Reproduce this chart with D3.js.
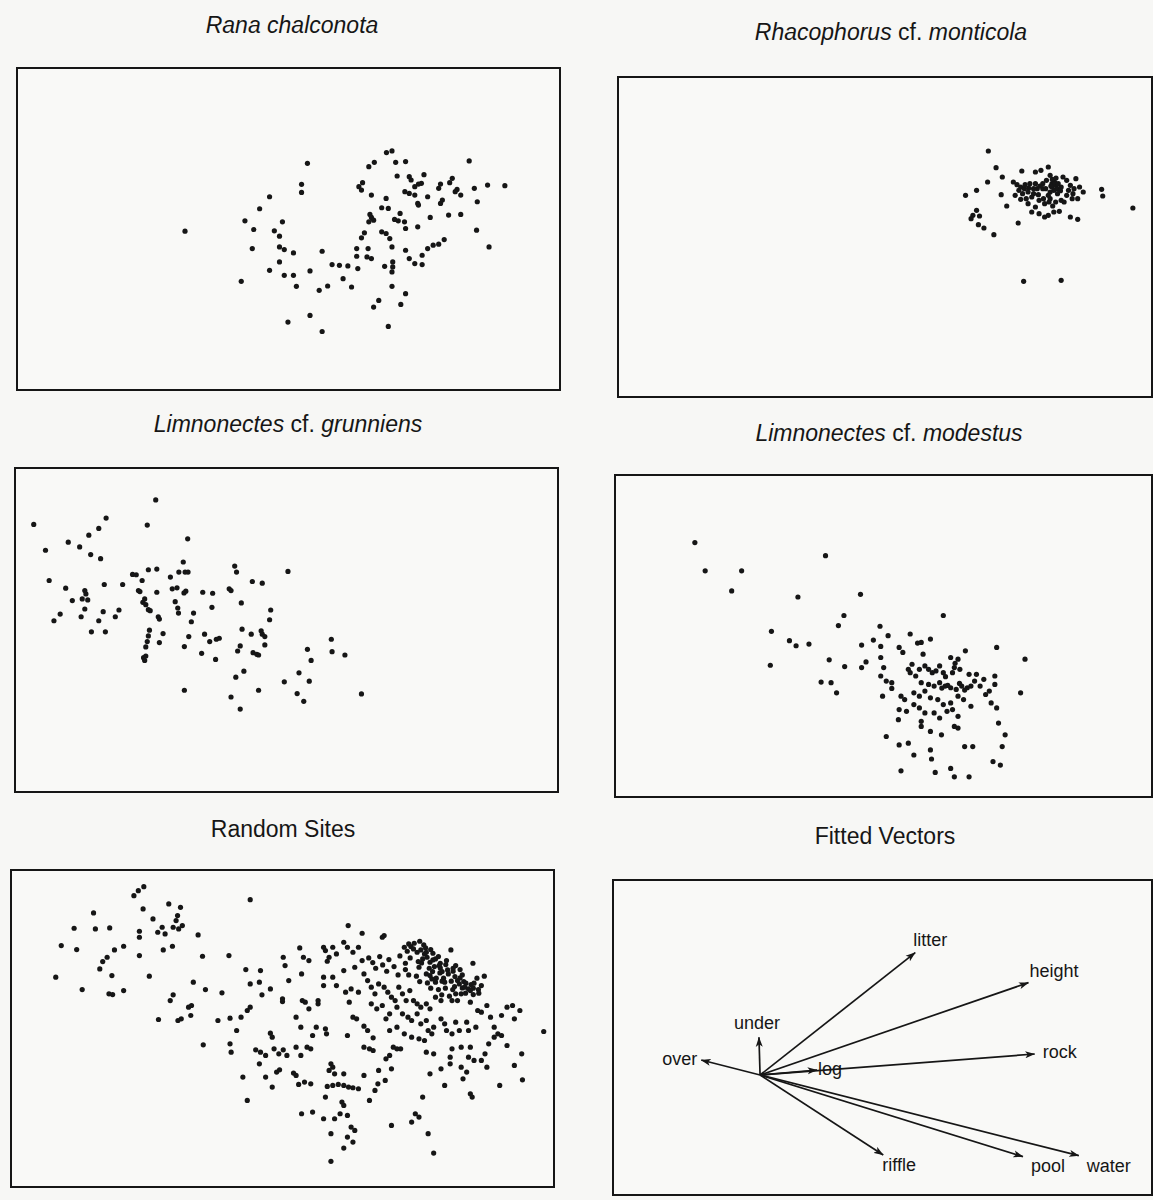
<!DOCTYPE html>
<html>
<head>
<meta charset="utf-8">
<script src="https://cdn.jsdelivr.net/npm/d3@7"></script>
<style>
  html, body { margin: 0; padding: 0; background: #f7f7f5; }
  svg { display: block; }
</style>
</head>
<body>
<svg id="chart" width="1153" height="1200"></svg>
<script>
// digitized ordination scores, one array per taxon [axis1, axis2]
const ranaChalconota = [
  [505,693],[838,490],[822,553],[822,577],[735,590],[708,626],[668,662],[770,665],
  [692,688],[748,692],[762,708],[688,745],[762,740],[775,748],[800,758],[878,753],
  [762,785],[735,810],[775,825],[800,825],[845,812],[658,843],[808,858],[905,793],
  [925,795],[948,797],[975,805],[935,835],[893,857],[870,870],[958,860],[785,965],
  [845,945],[878,993],[1058,978],[1018,920],[1032,900],[1092,912],[1105,880],[1068,858],
  [1048,798],[1070,800],[1068,815],[1070,785],[1000,770],[1012,775],[972,768],[972,745],
  [1003,745],[985,713],[993,698],[1040,695],[1052,700],[1062,715],[1068,740],[1005,665],
  [1012,652],[1018,660],[1008,643],[1040,623],[1058,625],[1052,595],[1012,585],[978,560],
  [988,548],[985,570],[1005,500],[1020,487],[1053,458],[1068,453],[1078,487],[1105,485],
  [1082,528],[1115,530],[1120,540],[1155,524],[1140,552],[1148,550],[1130,560],[1103,575],
  [1115,580],[1130,585],[1138,610],[1165,590],[1090,640],[1075,658],[1085,662],[1102,665],
  [1105,685],[1138,680],[1172,652],[1105,750],[1115,775],[1130,790],[1150,793],[1150,765],
  [1165,745],[1180,735],[1195,732],[1210,718],[1200,610],[1205,600],[1195,565],[1200,552],
  [1225,548],[1232,535],[1245,568],[1255,585],[1240,575],[1222,645],[1255,643],[1278,483],
  [1292,565],[1328,555],[1375,557],[1300,605],[1298,690],[1332,740],[1140,615]
];

const rhacophorusMonticola = [
  [1122,447],[1143,497],[1160,525],[1120,540],[1090,565],[1060,580],[1157,578],[1172,612],
  [1090,625],[1080,640],[1098,642],[1075,650],[1095,668],[1110,678],[1137,698],[1203,663],
  [1213,507],[1190,540],[1200,548],[1210,555],[1220,560],[1230,570],[1245,575],[1240,585],
  [1225,590],[1210,592],[1250,510],[1265,505],[1285,495],[1290,520],[1280,535],[1270,545],
  [1295,545],[1305,550],[1310,560],[1300,565],[1320,555],[1325,525],[1335,535],[1345,550],
  [1355,560],[1360,530],[1370,555],[1380,570],[1365,590],[1255,560],[1260,595],[1275,605],
  [1290,590],[1305,600],[1320,595],[1335,580],[1350,590],[1240,630],[1260,635],[1275,645],
  [1285,640],[1300,630],[1315,628],[1345,645],[1365,652],[1250,615],[1230,605],[1430,562],
  [1433,582],[1515,618],[1218,838],[1320,835],[1295,555],[1300,548],[1290,570],[1310,575],
  [1285,580],[1270,560],[1245,560],[1235,545],[1215,575],[1195,580],
  [1250,545],[1262,552],[1278,560],[1292,552],[1302,540],[1312,545],[1318,566],[1287,600],
  [1297,612],[1272,590],[1258,578],[1232,558],[1222,548],[1205,565],[1340,565],[1328,600],
  [1352,575],[1296,532],[1306,528]
];

const limnonectesGrunniens = [
  [93,373],[125,450],[135,540],[148,660],[165,640],[180,563],[187,426],[218,440],
  [243,405],[248,463],[270,385],[275,475],[290,354],[198,600],[222,648],[225,595],
  [232,570],[235,580],[240,598],[232,625],[250,693],[270,660],[282,633],[288,693],
  [285,552],[315,648],[325,628],[335,552],[362,522],[372,523],[378,570],[382,573],
  [388,540],[390,605],[395,595],[398,612],[405,508],[428,506],[405,627],[410,630],
  [402,375],[425,300],[428,575],[432,648],[435,655],[408,688],[405,705],[445,698],
  [435,725],[402,722],[398,738],[392,770],[395,778],[398,765],[465,530],[470,565],
  [483,562],[488,515],[500,485],[505,515],[513,515],[507,572],[502,577],[478,603],
  [485,622],[487,637],[512,416],[528,637],[522,663],[515,707],[503,737],[503,867],
  [553,575],[580,578],[578,620],[558,700],[572,722],[590,715],[598,712],[550,757],
  [588,775],[625,565],[630,570],[640,497],[645,515],[658,607],[660,685],[655,735],
  [648,750],[685,700],[690,755],[700,760],[705,762],[688,543],[715,548],[712,690],
  [715,700],[722,707],[722,732],[738,628],[735,657],[665,810],[643,828],[630,887],
  [655,923],[705,867],[785,513],[775,842],[810,877],[828,900],[815,815],[843,840],
  [838,745],[848,778],[903,715],[905,752],[940,762],[985,878]
];

const limnonectesModestus = [
  [325,413],[353,497],[452,497],[425,557],[680,452],[605,575],[775,567],[730,630],
  [715,660],[1000,630],[533,677],[582,705],[600,720],[635,715],[530,778],[690,762],
  [732,782],[778,785],[790,768],[778,718],[668,828],[695,830],[710,860],[828,662],
  [850,690],[810,703],[830,722],[880,725],[890,740],[910,685],[930,712],[940,710],
  [965,700],[945,745],[830,755],[838,785],[830,810],[845,825],[860,830],[835,870],
  [860,847],[885,870],[895,880],[905,790],[915,775],[910,800],[925,810],[935,790],
  [950,780],[960,790],[970,800],[980,795],[990,780],[1000,800],[1020,755],[1040,760],
  [1030,785],[1025,800],[1045,790],[1060,735],[940,830],[960,835],[975,840],[990,830],
  [1005,840],[1020,845],[1035,850],[1050,840],[1065,845],[1075,840],[1070,805],[1090,805],
  [920,860],[935,870],[950,855],[965,875],[985,880],[1000,895],[1020,890],[1040,870],
  [1055,880],[880,910],[900,915],[920,895],[935,905],[950,920],[975,920],[990,935],
  [1010,915],[1025,910],[1040,930],[1075,900],[878,940],[940,945],[940,960],[965,975],
  [995,985],[1030,960],[1040,965],[845,990],[880,1015],[905,1010],[920,1045],[965,1030],
  [968,1057],[1058,1020],[1080,1020],[885,1092],[978,1097],[1020,1085],[1030,1110],[1070,1110],
  [1135,1065],[1155,1075],[1160,1020],[1168,985],[1150,950],[1145,905],[1130,890],[1115,865],
  [1125,855],[1140,810],[1140,835],[1145,725],[1210,860],[1222,760],[1100,840],[1085,825],
  [1110,820],[1012,838],[1044,832],[1058,852],[996,846],[1032,772],[1006,812]
];

const randomSites = [
  [150,530],[165,435],[200,383],[207,447],[222,567],[253,337],[258,385],[270,505],
  [278,483],[290,470],[297,382],[303,525],[295,580],[305,582],[310,448],[335,570],
  [335,437],[363,285],[375,270],[390,258],[388,325],[378,392],[378,410],[378,465],
  [405,527],[415,355],[428,395],[440,380],[443,448],[448,400],[458,310],[468,437],
  [470,380],[478,360],[485,385],[490,320],[482,345],[495,375],[538,403],[550,467],
  [525,545],[558,567],[603,577],[470,583],[462,600],[430,657],[483,660],[492,655],
  [512,620],[520,615],[518,645],[552,733],[622,465],[680,297],[592,660],[625,653],
  [655,650],[672,630],[680,620],[643,690],[668,507],[708,510],[680,550],[705,545],
  [712,583],[735,565],[625,730],[628,755],[660,830],[672,900],[695,748],[708,755],
  [705,790],[722,765],[735,698],[740,710],[745,745],[758,760],[770,748],[780,765],
  [722,830],[740,860],[752,815],[760,808],[798,818],[805,825],[768,603],[768,595],
  [805,650],[818,680],[805,740],[818,765],[835,740],[845,745],[850,705],[770,470],
  [775,495],[785,540],[815,442],[820,520],[825,470],[840,480],[822,600],[830,605],
  [840,625],[865,600],[865,610],[860,680],[885,685],[888,700],[812,852],[828,845],
  [845,850],[820,940],[850,935],[880,440],[885,450],[895,470],[905,440],[915,460],
  [890,482],[880,530],[905,530],[880,555],[915,555],[900,790],[905,800],[895,810],
  [910,820],[935,820],[890,858],[905,855],[920,852],[935,855],[948,860],[960,862],
  [975,865],[885,890],[930,905],[935,915],[925,940],[945,945],[880,955],[910,955],
  [955,980],[965,990],[900,1000],[945,1010],[960,1025],[935,1043],[900,1083],[947,375],
  [985,398],[935,425],[945,440],[960,455],[975,440],[935,510],[965,500],[985,480],
  [990,520],[940,575],[955,565],[975,575],[950,605],[960,650],[970,655],[945,705],
  [990,677],[1000,690],[990,740],[1005,745],[1015,750],[990,825],[1005,900],[1020,870],
  [1028,850],[1030,810],[1048,840],[1015,712],[1050,775],[1060,765],[1070,740],[1080,745],
  [1065,805],[1090,745],[1040,410],[1045,405],
  [1003,472],[1014,486],[1022,503],[1033,468],[1041,493],[1052,512],[1058,477],[1072,498],
  [1083,523],[1088,466],[1103,488],[1108,452],[1118,438],[1127,428],[1142,422],[1153,433],
  [1158,442],[1172,447],[1178,458],[1193,468],[1198,488],[1213,492],[1218,508],[1233,512],
  [1238,528],[1252,532],[1262,543],[1268,548],[1282,552],[1288,563],[1302,567],[1116,472],
  [1138,483],[1147,487],[1168,503],[1177,513],[1197,517],[1207,533],[1228,542],[1237,558],
  [1258,562],[1267,578],[1103,507],[1112,523],[1133,527],[1142,543],[1163,547],[1172,563],
  [1193,567],[1202,583],[1223,587],[1178,478],[1182,498],[1198,502],[1203,513],[1187,533],
  [1203,542],[1212,563],[1232,567],[1227,448],[1233,503],[1252,507],[1258,523],[1287,488],
  [1298,533],[1318,527],[1303,578],[1288,582],[1125,445],[1135,455],[1145,448],[1155,460],
  [1162,470],[1170,485],[1185,475],[1150,475],[1140,500],[1160,520],[1175,535],[1185,545],
  [1210,545],[1220,520],[1245,540],[1250,550],[1265,560],[1275,565],[1290,548],[1195,495],
  [1215,480],[1240,495],[1100,440],[1112,430],[1160,455],[1170,525],[1255,580],[1280,570],
  [1310,555],[1200,600],[1185,590],[1240,580],
  [1000,540],[1010,560],[1020,580],[1030,550],[1045,560],[1055,575],[1065,590],[1075,600],
  [1085,560],[1095,580],[1105,600],[1115,570],[1125,600],[1135,610],[1145,620],[1160,610],
  [1170,625],[1010,610],[1025,625],[1040,615],[1050,655],[1060,640],[1080,620],[1095,640],
  [1110,650],[1120,660],[1135,640],[1145,670],[1160,660],[1165,690],[1175,700],[1155,720],
  [1140,715],[1180,680],[1200,655],[1210,670],[1215,690],[1230,700],[1240,665],[1250,690],
  [1255,740],[1270,665],[1275,690],[1280,740],[1295,680],[1230,600],[1245,600],[1280,605],
  [1300,630],[1310,635],[1325,615],[1335,650],[1345,680],[1355,700],[1365,645],[1380,620],
  [1395,615],[1400,655],[1415,630],[1160,755],[1180,760],[1200,805],[1170,820],[1210,855],
  [1230,745],[1225,770],[1225,790],[1255,800],[1260,835],[1275,770],[1270,815],[1290,780],
  [1310,780],[1320,760],[1330,730],[1345,710],[1365,705],[1380,735],[1325,800],[1280,880],
  [1285,890],[1360,855],[1400,795],[1420,760],[1422,838],[1480,693],[1150,890],[1130,940],
  [1140,950],[1120,965],[1065,975],[1165,1000],[1180,1058],[1100,700],[1120,710],[1080,680],
  [1060,690]
];

// fitted environmental vectors (axis1, axis2)
const vectorNames = ['over', 'under', 'litter', 'height', 'rock', 'log', 'riffle', 'pool', 'water'];
const vectorX = [-0.160, -0.003, 0.422, 0.730, 0.747, 0.155, 0.335, 0.715, 0.867];
const vectorY = [0.045, 0.113, 0.367, 0.277, 0.063, 0.015, -0.240, -0.245, -0.242];

const FONT = "'Liberation Sans', Arial, Helvetica, sans-serif";
const INK = '#161616';

const svg = d3.select('#chart');

const defs = svg.append('defs');
defs.append('marker')
  .attr('id', 'arrow')
  .attr('viewBox', '0 0 10 8')
  .attr('refX', 9.5)
  .attr('refY', 4)
  .attr('markerUnits', 'userSpaceOnUse')
  .attr('markerWidth', 10)
  .attr('markerHeight', 8)
  .attr('orient', 'auto')
  .append('path')
  .attr('d', 'M0,0.5 L10,4 L0,7.5 L2.5,4 Z')
  .attr('fill', INK);

const scatterPanels = [
  { title: [['Rana chalconota', true]], tx: 292, ty: 33,
    data: ranaChalconota, frame: { x: 17, y: 68, w: 543, h: 322 }, xd: [48, 1525], yd: [205, 1168] },
  { title: [['Rhacophorus', true], [' cf. ', false], ['monticola', true]], tx: 891, ty: 40,
    data: rhacophorusMonticola, frame: { x: 618, y: 77, w: 534, h: 320 }, xd: [115, 1567], yd: [225, 1185] },
  { title: [['Limnonectes', true], [' cf. ', false], ['grunniens', true]], tx: 288, ty: 432,
    data: limnonectesGrunniens, frame: { x: 15, y: 468, w: 543, h: 324 }, xd: [42, 1520], yd: [205, 1170] },
  { title: [['Limnonectes', true], [' cf. ', false], ['modestus', true]], tx: 889, ty: 441,
    data: limnonectesModestus, frame: { x: 615, y: 475, w: 537, h: 322 }, xd: [108, 1567], yd: [212, 1170] },
  { title: [['Random Sites', false]], tx: 283, ty: 837,
    data: randomSites, frame: { x: 11, y: 870, w: 543, h: 317 }, xd: [28, 1508], yd: [208, 1160] }
];

function drawTitle(parts, x, y) {
  const t = svg.append('text')
    .attr('x', x)
    .attr('y', y)
    .attr('text-anchor', 'middle')
    .attr('font-family', FONT)
    .attr('font-size', 23)
    .attr('fill', INK);
  parts.forEach(([txt, ital]) => {
    t.append('tspan')
      .attr('font-style', ital ? 'italic' : 'normal')
      .style('white-space', 'pre')
      .text(txt);
  });
}

function drawFrame(f) {
  svg.append('rect')
    .attr('x', f.x)
    .attr('y', f.y)
    .attr('width', f.w)
    .attr('height', f.h)
    .attr('fill', '#f9f9f7')
    .attr('stroke', INK)
    .attr('stroke-width', 2);
}

scatterPanels.forEach(p => {
  drawTitle(p.title, p.tx, p.ty);
  drawFrame(p.frame);

  const x = d3.scaleLinear().domain(p.xd).range([0, p.frame.w]);
  const y = d3.scaleLinear().domain(p.yd).range([0, p.frame.h]);

  svg.append('g')
    .attr('transform', `translate(${p.frame.x},${p.frame.y})`)
    .selectAll('circle')
    .data(p.data)
    .join('circle')
    .attr('cx', d => x(d[0]))
    .attr('cy', d => y(d[1]))
    .attr('r', 2.6)
    .attr('fill', INK);
});

// Fitted vectors panel
const vf = { x: 613, y: 880, w: 539, h: 315 };
drawTitle([['Fitted Vectors', false]], 885, 844);
drawFrame(vf);

const vx = d3.scaleLinear().domain([-0.4, 1.066]).range([0, vf.w]);
const vy = d3.scaleLinear().domain([-0.36, 0.585]).range([vf.h, 0]);

// label placement: [dx, dy, anchor]
const labelPlace = {
  over: [-4, 5, 'end'],
  under: [-2, -8, 'middle'],
  litter: [-2, -7, 'start'],
  height: [1, -6, 'start'],
  rock: [8, 4, 'start'],
  log: [1, 5, 'start'],
  riffle: [-1, 16, 'start'],
  pool: [8, 15, 'start'],
  water: [8, 16, 'start']
};

const vg = svg.append('g').attr('transform', `translate(${vf.x},${vf.y})`);
const vecs = vectorNames.map((n, i) => ({ name: n, x: vectorX[i], y: vectorY[i] }));

vg.selectAll('line')
  .data(vecs)
  .join('line')
  .attr('x1', vx(0))
  .attr('y1', vy(0))
  .attr('x2', d => vx(d.x))
  .attr('y2', d => vy(d.y))
  .attr('stroke', INK)
  .attr('stroke-width', 1.7)
  .attr('marker-end', 'url(#arrow)');

vg.selectAll('text')
  .data(vecs)
  .join('text')
  .attr('x', d => vx(d.x) + labelPlace[d.name][0])
  .attr('y', d => vy(d.y) + labelPlace[d.name][1])
  .attr('text-anchor', d => labelPlace[d.name][2])
  .attr('font-family', FONT)
  .attr('font-size', 18)
  .attr('fill', INK)
  .text(d => d.name);
</script>
</body>
</html>
